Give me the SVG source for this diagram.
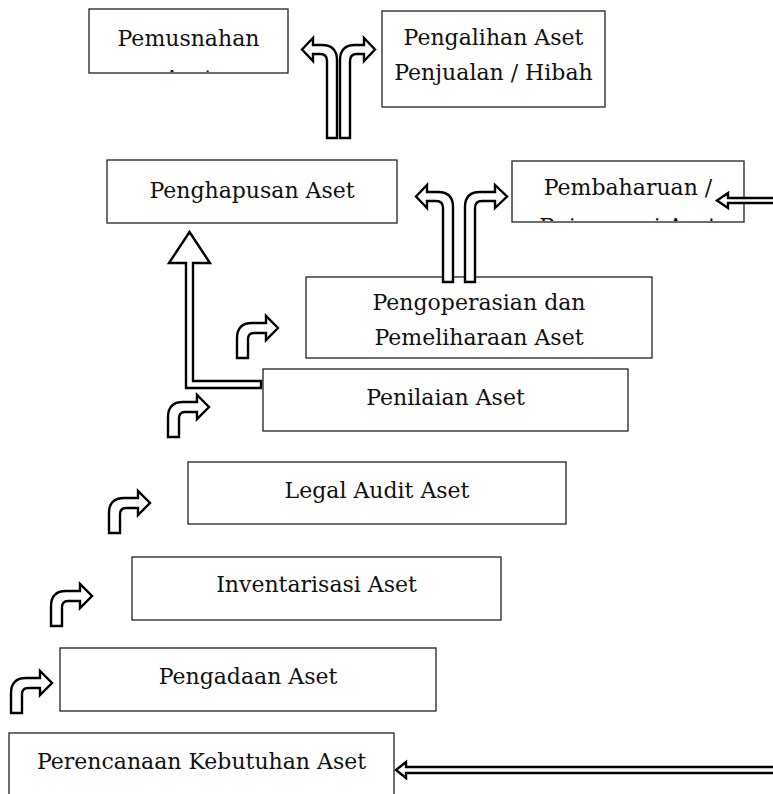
<svg xmlns="http://www.w3.org/2000/svg" width="773" height="794" viewBox="0 0 773 794">
<style>
.box{fill:#fff;stroke:#222;stroke-width:1.3}
.t{font-family:"DejaVu Serif","Liberation Serif",serif;font-size:22px;fill:#111;text-anchor:middle}
.arr{fill:#fff;stroke:#000;stroke-width:2.4;stroke-linejoin:miter}
</style>
<defs>
<path id="bend" d="M0,0 V-20 Q0,-35 15,-35 H29 V-42 L41,-30 L29,-18 V-25 H17 Q11,-25 11,-19 V0 Z"/>
<clipPath id="c1"><rect x="90" y="10" width="197" height="62"/></clipPath>
<clipPath id="c2"><rect x="513" y="162" width="231" height="59"/></clipPath>
</defs>
<rect width="773" height="794" fill="#fff"/>
<g id="n-pemusnahan">
<rect class="box" x="89" y="9" width="199" height="64"/>
<g clip-path="url(#c1)">
<text class="t" x="188.5" y="46">Pemusnahan</text>
<text class="t" x="188.5" y="86">Aset</text>
</g>
</g>
<g id="n-pengalihan">
<rect class="box" x="382" y="11" width="223" height="96"/>
<text class="t" x="493.5" y="45">Pengalihan Aset</text>
<text class="t" x="493.5" y="80">Penjualan / Hibah</text>
</g>
<g id="n-penghapusan">
<rect class="box" x="107" y="160" width="290" height="63"/>
<text class="t" x="252" y="198">Penghapusan Aset</text>
</g>
<g id="n-pembaharuan">
<rect class="box" x="512" y="161" width="232" height="61"/>
<g clip-path="url(#c2)">
<text class="t" x="628" y="195">Pembaharuan /</text>
<text class="t" x="628" y="234">Rejuvenasi Aset</text>
</g>
</g>
<g id="n-pengoperasian">
<rect class="box" x="306" y="277" width="346" height="81"/>
<text class="t" x="479" y="310">Pengoperasian dan</text>
<text class="t" x="479" y="345">Pemeliharaan Aset</text>
</g>
<g id="n-penilaian">
<rect class="box" x="263" y="369" width="365" height="62"/>
<text class="t" x="445.5" y="405">Penilaian Aset</text>
</g>
<g id="n-legal">
<rect class="box" x="188" y="462" width="378" height="62"/>
<text class="t" x="377" y="498">Legal Audit Aset</text>
</g>
<g id="n-inventarisasi">
<rect class="box" x="132" y="557" width="369" height="63"/>
<text class="t" x="316.5" y="592">Inventarisasi Aset</text>
</g>
<g id="n-pengadaan">
<rect class="box" x="60" y="648" width="376" height="63"/>
<text class="t" x="248" y="684">Pengadaan Aset</text>
</g>
<g id="n-perencanaan">
<rect class="box" x="9" y="733" width="385" height="70"/>
<text class="t" x="201.5" y="769">Perencanaan Kebutuhan Aset</text>
</g>
<g id="connectors">
<path class="arr" d="M340,138 V60 Q340,45 355,45 H364 V38 L375,49.5 L364,61 V54 H357 Q350,54 350,61 V138 Z"/>
<path class="arr" d="M337,138 V60 Q337,45 322,45 H313 V38 L302,49.5 L313,61 V54 H320 Q327,54 327,61 V138 Z"/>
<path class="arr" d="M465,282 V207 Q465,192 480,192 H495 V185 L507,196.5 L495,208 V201 H482 Q475,201 475,208 V282 Z"/>
<path class="arr" d="M453,282 V207 Q453,192 438,192 H427 V185 L416,196.5 L427,208 V201 H436 Q443,201 443,208 V282 Z"/>
<path class="arr" d="M773,198 H728 V193 L717,200.5 L728,208 V203 H773"/>
<path class="arr" d="M186,388 H261 V381 H193 V263 H210 L189.5,232 L169,263 H186 Z"/>
<use href="#bend" class="arr" transform="translate(237,358)"/>
<use href="#bend" class="arr" transform="translate(168,437)"/>
<use href="#bend" class="arr" transform="translate(109,533)"/>
<use href="#bend" class="arr" transform="translate(51,626)"/>
<use href="#bend" class="arr" transform="translate(11,713)"/>
<path class="arr" d="M773,767 H406 V762 L396,770 L406,778 V773 H773"/>
</g>
</svg>
